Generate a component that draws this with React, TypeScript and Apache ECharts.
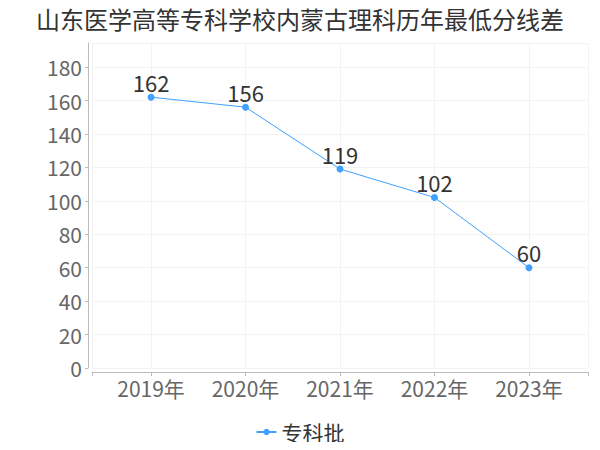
import React, { useEffect, useRef } from "react";
import * as echarts from "echarts";

const titleText = "山东医学高等专科学校内蒙古理科历年最低分线差";
const categories = ["2019年", "2020年", "2021年", "2022年", "2023年"];
const seriesName = "专科批";
const values = [162, 156, 119, 102, 60];

const FONT = "Noto Sans CJK SC, sans-serif";

export default function App() {
  const ref = useRef<HTMLDivElement>(null);
  useEffect(() => {
    if (!ref.current) return;
    const chart = echarts.init(ref.current, undefined, { renderer: "svg" });
    chart.setOption({
      animation: false,
      textStyle: { fontFamily: FONT },
      title: {
        text: titleText,
        left: "center",
        top: 1,
        textStyle: { fontSize: 24, fontWeight: "normal", color: "#333", fontFamily: FONT },
      },
      grid: { left: 92, right: 12, top: 43, bottom: 82 },
      legend: {
        top: 418,
        left: "center",
        itemWidth: 20,
        itemHeight: 8,
        itemGap: 4,
        padding: 0,
        textStyle: { fontSize: 21, lineHeight: 28, color: "#333", fontFamily: FONT },
        data: [seriesName],
      },
      xAxis: {
        type: "value",
        min: -0.625,
        max: categories.length - 1 + 0.625,
        offset: 4,
        axisLine: { show: true, onZero: false, lineStyle: { color: "#bbb" } },
        axisTick: { show: true, length: 4, lineStyle: { color: "#bbb" } },
        splitLine: { show: true, lineStyle: { color: "#f3f3f3" } },
        axisLabel: {
          fontSize: 21,
          color: "#666",
          margin: 5,
          fontFamily: FONT,
          formatter: (v: number) =>
            Number.isInteger(v) && categories[v] !== undefined ? categories[v] : "",
        },
      },
      yAxis: {
        type: "value",
        min: 0,
        max: 194.4,
        interval: 20,
        offset: 4,
        axisLine: { show: true, onZero: false, lineStyle: { color: "#bbb" } },
        axisTick: { show: true, length: 3, lineStyle: { color: "#bbb" } },
        splitLine: { show: true, lineStyle: { color: "#f3f3f3" } },
        axisLabel: {
          fontSize: 21,
          color: "#666",
          margin: 6,
          fontFamily: FONT,
          showMaxLabel: false,
          formatter: (v: number) => (v % 20 === 0 ? String(v) : ""),
        },
      },
      series: [
        {
          name: seriesName,
          type: "line",
          data: values.map((v, i) => [i, v]),
          symbol: "circle",
          symbolSize: 7,
          itemStyle: { color: "#3fa0ff" },
          lineStyle: { color: "#3fa0ff", width: 1 },
          label: {
            show: true,
            position: "top",
            distance: 1,
            fontSize: 22,
            color: "#333",
            fontFamily: FONT,
          },
        },
      ],
    });
    return () => chart.dispose();
  }, []);
  return <div ref={ref} style={{ width: 600, height: 450, margin: -8 }} />;
}
